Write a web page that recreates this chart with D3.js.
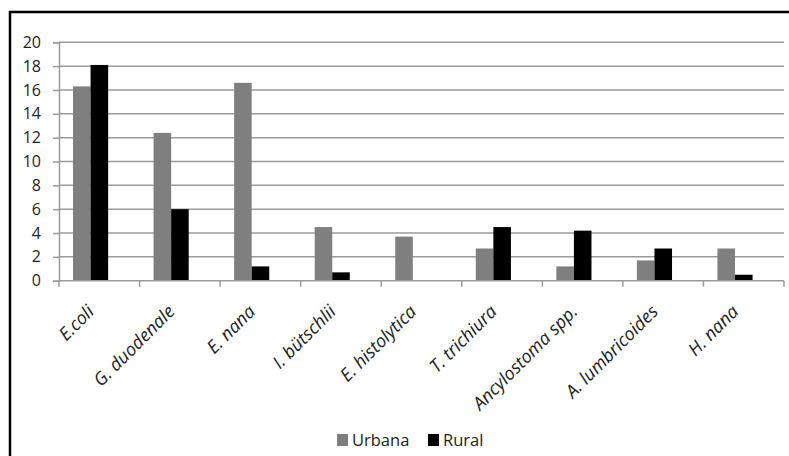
<!DOCTYPE html>
<html>
<head>
<meta charset="utf-8">
<script src="https://cdn.jsdelivr.net/npm/d3@7"></script>
<style>
  html, body { margin: 0; padding: 0; background: #fff; }
  svg { display: block; }
  text { font-family: "Open Sans", "Liberation Sans", sans-serif; fill: #222; }
</style>
</head>
<body>
<svg id="chart" width="789" height="456"></svg>
<script>
// Parasite species and prevalence (%) by area
const categories = ["E.coli", "G. duodenale", "E. nana", "I. bütschlii", "E. histolytica",
                    "T. trichiura", "Ancylostoma spp.", "A. lumbricoides", "H. nana"];
const urbana = [16.3, 12.4, 16.6, 4.5, 3.7, 2.7, 1.2, 1.7, 2.7];
const rural  = [18.1, 6.0, 1.2, 0.7, 0.0, 4.5, 4.2, 2.7, 0.5];
const seriesNames = ["Urbana", "Rural"];
const seriesColors = ["#7f7f7f", "#000000"];
const yTicks = [0, 2, 4, 6, 8, 10, 12, 14, 16, 18, 20];

const svg = d3.select("#chart");
const W = 789, H = 456;
const plot = { left: 59, right: 784, top: 42.3, bottom: 280.7 };

// Outer frame (runs off the right and bottom edges)
svg.append("rect")
  .attr("x", 10).attr("y", 12)
  .attr("width", W + 20).attr("height", H + 20)
  .attr("fill", "none").attr("stroke", "#000").attr("stroke-width", 2.5);

const x = d3.scaleBand().domain(categories).range([plot.left, plot.right]).padding(0);
const y = d3.scaleLinear().domain([0, 20]).range([plot.bottom, plot.top]);

// Bars sit slightly left of band centre
const bw = x.bandwidth();
const xs = d3.scaleBand().domain(seriesNames)
  .range([bw * 0.174, bw * 0.61]).padding(0);

// Gridlines
svg.append("g")
  .selectAll("line")
  .data(yTicks.filter(t => t > 0))
  .join("line")
  .attr("x1", plot.left).attr("x2", plot.right)
  .attr("y1", d => y(d)).attr("y2", d => y(d))
  .attr("stroke", "#9a9a9a").attr("stroke-width", 1.5);

// Y axis
const yAxis = svg.append("g")
  .attr("transform", `translate(${plot.left},0)`)
  .call(d3.axisLeft(y).tickValues(yTicks).tickSize(6).tickPadding(12).tickFormat(d3.format("d")));
yAxis.select(".domain").attr("stroke", "#9a9a9a").attr("stroke-width", 1.5);
yAxis.selectAll(".tick line").attr("stroke", "#9a9a9a").attr("stroke-width", 1.5);
yAxis.selectAll(".tick text")
  .attr("font-size", 16).attr("font-family", "'Open Sans', 'Liberation Sans', sans-serif")
  .attr("fill", "#1a1a1a");

// Bars
const groups = svg.append("g")
  .selectAll("g")
  .data(categories)
  .join("g")
  .attr("transform", d => `translate(${x(d)},0)`);

groups.selectAll("rect")
  .data((d, i) => [
    { s: seriesNames[0], v: urbana[i], c: seriesColors[0] },
    { s: seriesNames[1], v: rural[i], c: seriesColors[1] }
  ])
  .join("rect")
  .attr("x", d => xs(d.s))
  .attr("width", xs.bandwidth())
  .attr("y", d => y(d.v))
  .attr("height", d => y(0) - y(d.v))
  .attr("fill", d => d.c);

// X axis: boundary ticks between categories
const boundaries = categories.map(c => x(c)).concat([plot.right]);
svg.append("line")
  .attr("x1", plot.left).attr("x2", plot.right)
  .attr("y1", plot.bottom).attr("y2", plot.bottom)
  .attr("stroke", "#9a9a9a").attr("stroke-width", 1.5);
svg.append("g")
  .selectAll("line")
  .data(boundaries)
  .join("line")
  .attr("x1", d => d).attr("x2", d => d)
  .attr("y1", plot.bottom).attr("y2", plot.bottom + 6)
  .attr("stroke", "#9a9a9a").attr("stroke-width", 1.5);

// Category labels, rotated
svg.append("g")
  .selectAll("text")
  .data(categories)
  .join("text")
  .attr("transform", d => `translate(${x(d) + bw / 2 - 4},${plot.bottom + 32}) rotate(-45)`)
  .attr("text-anchor", "end")
  .attr("font-size", 18)
  .attr("font-style", "italic")
  .text(d => d);

// Legend
const legend = svg.append("g").attr("transform", "translate(337,434)");
const items = legend.selectAll("g")
  .data(seriesNames)
  .join("g")
  .attr("transform", (d, i) => `translate(${i * 91},0)`);
items.append("rect")
  .attr("width", 11).attr("height", 12)
  .attr("fill", (d, i) => seriesColors[i]);
items.append("text")
  .attr("x", 15).attr("y", 12)
  .attr("font-size", 16.5)
  .text(d => d);
</script>
</body>
</html>
